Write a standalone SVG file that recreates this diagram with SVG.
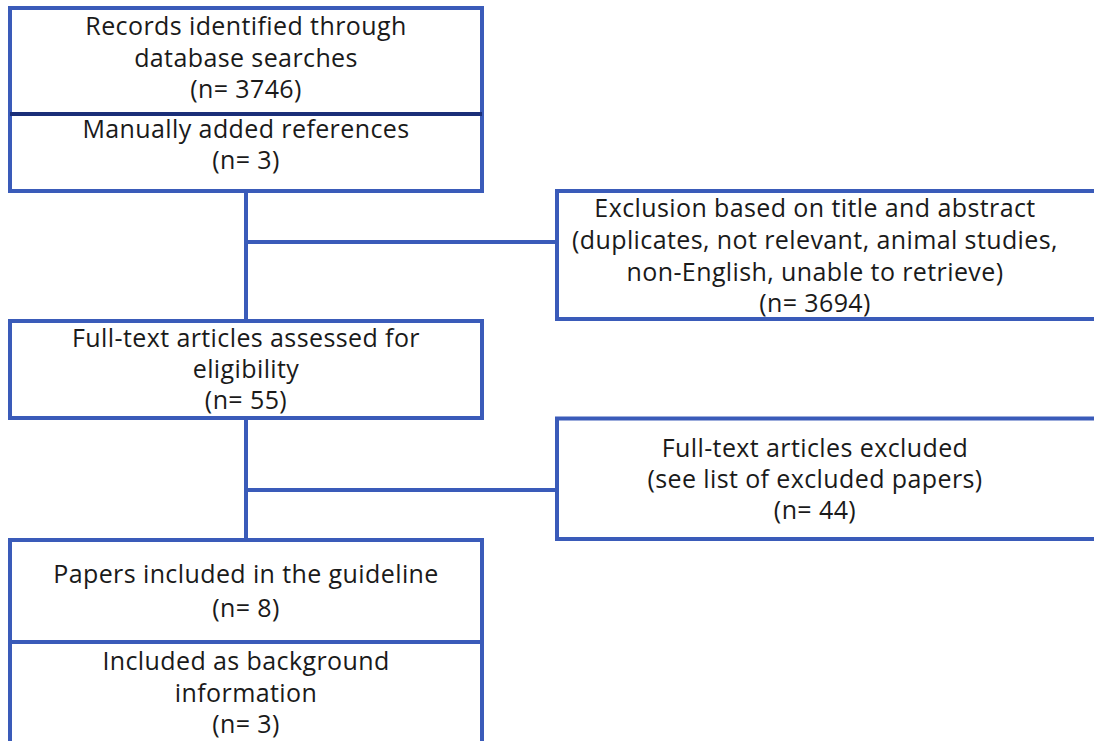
<svg xmlns="http://www.w3.org/2000/svg" width="1094" height="741" viewBox="0 0 1094 741">
<style>
.box{fill:#ffffff;stroke:#3a5bb9;stroke-width:4}
.div{stroke:#3a5bb9;stroke-width:4}
.divd{stroke:#1a2e78;stroke-width:4}
.con{stroke:#3a5bb9;stroke-width:4;fill:none}
text{font-family:"Open Sans","Liberation Sans",sans-serif;font-size:25px;letter-spacing:0.4px;fill:#1a1a1a;text-anchor:middle}
</style>
<rect width="1094" height="741" fill="#ffffff"/>
<g id="connectors">
<line class="con" x1="246" y1="191" x2="246" y2="321"/>
<line class="con" x1="246" y1="242" x2="557" y2="242"/>
<line class="con" x1="246" y1="418" x2="246" y2="540"/>
<line class="con" x1="246" y1="490" x2="557" y2="490"/>
</g>
<g id="records">
<rect class="box" x="10" y="8" width="472" height="183"/>
<line class="divd" x1="10" y1="114" x2="482" y2="114"/>
<text x="246" y="35">Records identified through</text>
<text x="246" y="67">database searches</text>
<text x="246" y="98">(n= 3746)</text>
<text x="246" y="138">Manually added references</text>
<text x="246" y="169">(n= 3)</text>
</g>
<g id="exclusion1">
<rect class="box" x="557" y="191" width="560" height="128"/>
<text x="815" y="217" letter-spacing="0.1">Exclusion based on title and abstract</text>
<text x="815" y="249" letter-spacing="0.1">(duplicates, not relevant, animal studies,</text>
<text x="815" y="281" letter-spacing="0.1">non-English, unable to retrieve)</text>
<text x="815" y="312">(n= 3694)</text>
</g>
<g id="fulltext">
<rect class="box" x="10" y="321" width="472" height="97"/>
<text x="246" y="347">Full-text articles assessed for</text>
<text x="246" y="378">eligibility</text>
<text x="246" y="409">(n= 55)</text>
</g>
<g id="exclusion2">
<rect class="box" x="557" y="418.5" width="560" height="120.5"/>
<text x="815" y="457">Full-text articles excluded</text>
<text x="815" y="488">(see list of excluded papers)</text>
<text x="815" y="519">(n= 44)</text>
</g>
<g id="included">
<rect class="box" x="10" y="540" width="472" height="230"/>
<line class="div" x1="10" y1="642" x2="482" y2="642"/>
<text x="246" y="583">Papers included in the guideline</text>
<text x="246" y="617">(n= 8)</text>
<text x="246" y="670">Included as background</text>
<text x="246" y="702">information</text>
<text x="246" y="733">(n= 3)</text>
</g>
</svg>
